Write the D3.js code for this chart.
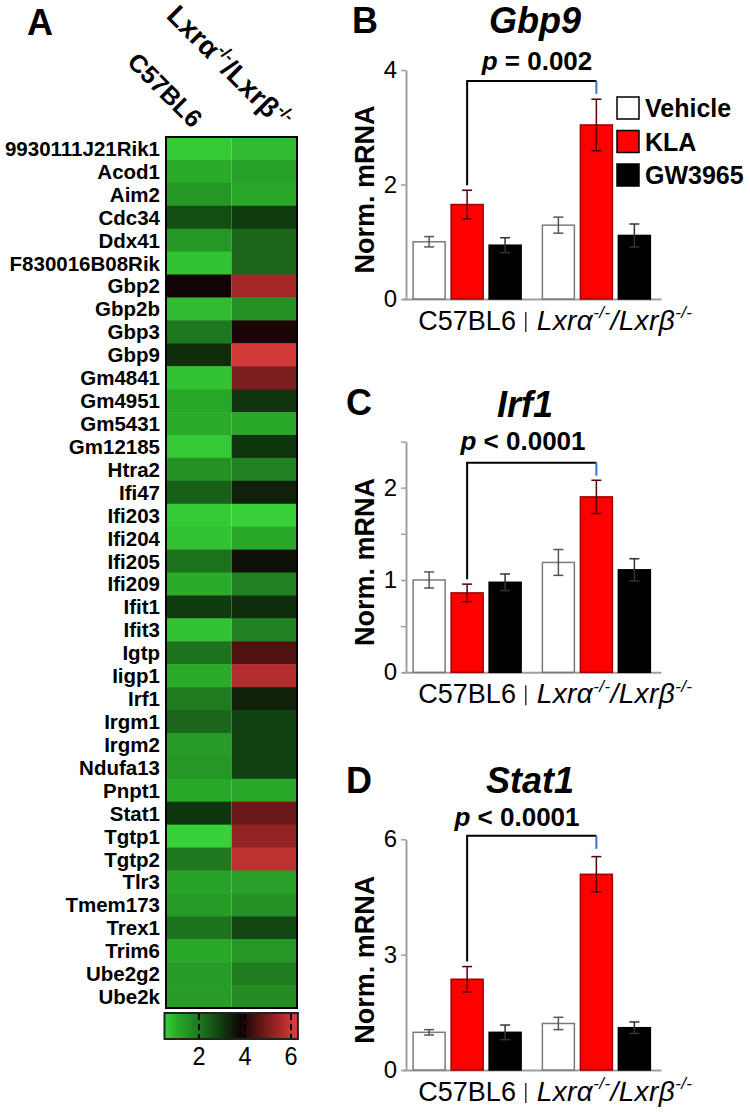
<!DOCTYPE html>
<html>
<head>
<meta charset="utf-8">
<script src="https://cdnjs.cloudflare.com/ajax/libs/d3/7.8.5/d3.min.js"></script>
<style>
  body { margin: 0; background: #fff; }
  svg { display: block; font-family: "Liberation Sans", Arial, sans-serif; }
</style>
</head>
<body>
<div id="chart"></div>
<script>
// ---- heatmap data (panel A) ----
const genes = ["9930111J21Rik1", "Acod1", "Aim2", "Cdc34", "Ddx41", "F830016B08Rik",
  "Gbp2", "Gbp2b", "Gbp3", "Gbp9", "Gm4841", "Gm4951", "Gm5431", "Gm12185", "Htra2",
  "Ifi47", "Ifi203", "Ifi204", "Ifi205", "Ifi209", "Ifit1", "Ifit3", "Igtp", "Iigp1",
  "Irf1", "Irgm1", "Irgm2", "Ndufa13", "Pnpt1", "Stat1", "Tgtp1", "Tgtp2", "Tlr3",
  "Tmem173", "Trex1", "Trim6", "Ube2g2", "Ube2k"];
const strains = ["C57BL6", "Lxr"];
const heatC57 = [0.6, 1.0, 1.4, 2.7, 1.4, 0.7, 3.8, 0.8, 2.0, 3.2, 0.7, 1.1, 1.0, 0.6, 1.5,
  2.4, 0.6, 0.7, 2.1, 1.0, 3.0, 0.7, 2.1, 1.0, 1.9, 2.3, 1.3, 1.4, 1.1, 3.1, 0.5, 2.0, 1.2,
  1.3, 2.1, 1.1, 1.3, 1.3];
const heatLxr = [0.8, 1.2, 1.1, 3.0, 2.3, 2.3, 5.5, 1.5, 3.9, 6.1, 5.0, 3.1, 1.1, 3.1, 1.8,
  3.4, 0.5, 1.1, 3.6, 1.8, 3.2, 1.8, 4.5, 5.7, 3.4, 2.9, 2.9, 2.9, 1.1, 4.8, 5.3, 5.8, 1.2,
  1.5, 2.8, 1.4, 1.9, 1.6];
const colorTicks = [2, 4, 6];

// ---- bar data (panels B-D) ----
const groups = ["C57BL6", "Lxr"];
const treatments = ["Vehicle", "KLA", "GW3965"];
const gbp9C57 = [1.0, 1.65, 0.94];
const gbp9Lxr = [1.29, 3.04, 1.11];
const gbp9ErrC57 = [0.09, 0.25, 0.13];
const gbp9ErrLxr = [0.14, 0.45, 0.2];
const irf1C57 = [1.0, 0.86, 0.975];
const irf1Lxr = [1.19, 1.9, 1.11];
const irf1ErrC57 = [0.087, 0.095, 0.09];
const irf1ErrLxr = [0.14, 0.18, 0.12];
const stat1C57 = [0.98, 2.36, 0.98];
const stat1Lxr = [1.21, 5.09, 1.1];
const stat1ErrC57 = [0.07, 0.33, 0.19];
const stat1ErrLxr = [0.16, 0.46, 0.15];

const W = 750, H = 1112;
const svg = d3.select("#chart").append("svg").attr("width", W).attr("height", H);

// superscripted "Lxrα-/-/Lxrβ-/-" label
function lxrLabel(text, size, italic) {
  const sup = Math.round(size * 0.62);
  const parts = [
    { t: "Lxr\u03b1", s: size, dy: 0 },
    { t: "-/-", s: sup, dy: -size * 0.42 },
    { t: "/Lxr\u03b2", s: size, dy: size * 0.42 },
    { t: "-/-", s: sup, dy: -size * 0.42 },
  ];
  parts.forEach((p) => {
    text.append("tspan").attr("font-size", p.s).attr("dy", p.dy)
      .attr("font-style", italic ? "italic" : "normal").text(p.t);
  });
}

// ---------------- Panel A ----------------
svg.append("text").attr("x", 27).attr("y", 35).attr("font-size", 36)
  .attr("font-weight", "bold").text("A");

const hx = d3.scaleBand().domain(strains).range([166, 297]);
const hy = d3.scaleBand().domain(genes).range([137, 1008]);
const heatDomain = [0.5, 1.0, 2.0, 3.0, 3.8, 4.6, 5.5, 6.2];
const heatColor = d3.scaleLinear().domain(heatDomain)
  .range(["#38d238", "#2aac2a", "#1e781e", "#0f3c0f", "#110404", "#5a1414", "#a52828", "#dc3c3c"])
  .clamp(true);

const cells = [];
genes.forEach((g, i) => {
  cells.push({ gene: g, strain: strains[0], v: heatC57[i] });
  cells.push({ gene: g, strain: strains[1], v: heatLxr[i] });
});

svg.append("g").selectAll("rect").data(cells).join("rect")
  .attr("x", (d) => hx(d.strain))
  .attr("y", (d) => hy(d.gene))
  .attr("width", hx.bandwidth())
  .attr("height", hy.bandwidth() + 0.5)
  .attr("fill", (d) => heatColor(d.v));

svg.append("rect").attr("x", 166).attr("y", 137).attr("width", 131).attr("height", 871)
  .attr("fill", "none").attr("stroke", "#000").attr("stroke-width", 2);

svg.append("g").selectAll("text").data(genes).join("text")
  .attr("x", 160)
  .attr("y", (d) => hy(d) + hy.bandwidth() / 2 + 7.5)
  .attr("text-anchor", "end")
  .attr("font-size", 20.5)
  .attr("font-weight", "bold")
  .text((d) => d);

// column headers
svg.append("text").attr("transform", "translate(" + (hx.bandwidth() / 2 + 166 - 7) + ",129) rotate(45)")
  .attr("text-anchor", "end").attr("font-size", 25).attr("font-weight", "bold").text("C57BL6");
const hdr = svg.append("text")
  .attr("transform", "translate(" + (hx(strains[1]) + hx.bandwidth() / 2 + 15) + ",131) rotate(45)")
  .attr("text-anchor", "end").attr("font-size", 28).attr("font-weight", "bold");
lxrLabel(hdr, 28, false);

// colour bar
const cx = d3.scaleLinear().domain([2, 6]).range([199, 291]);
const cb0 = cx(0.5), cb1 = cx(6.3);
const grad = svg.append("defs").append("linearGradient").attr("id", "heatGrad");
heatDomain.forEach((d) => {
  grad.append("stop").attr("offset", (cx(d) - cb0) / (cb1 - cb0)).attr("stop-color", heatColor(d));
});
svg.append("rect").attr("x", cb0).attr("y", 1013).attr("width", cb1 - cb0).attr("height", 26)
  .attr("fill", "url(#heatGrad)").attr("stroke", "#222").attr("stroke-width", 2);
svg.append("g").selectAll("line").data(colorTicks).join("line")
  .attr("x1", (d) => cx(d)).attr("x2", (d) => cx(d))
  .attr("y1", 1014).attr("y2", 1038)
  .attr("stroke", "#000").attr("stroke-width", 2).attr("stroke-dasharray", "6,4");
svg.append("g").selectAll("text").data(colorTicks).join("text")
  .attr("transform", (d) => "translate(" + cx(d) + ",1065) scale(0.9,1)")
  .attr("text-anchor", "middle").attr("font-size", 26).text((d) => d);

// ---------------- Panels B-D ----------------
const x0 = d3.scaleBand().domain(groups).range([402.5, 661]);
const x1 = d3.scaleBand().domain(treatments).range([0, x0.bandwidth()])
  .paddingInner(0.158).paddingOuter(0.28);
const fills = { Vehicle: "#ffffff", KLA: "#ff0000", GW3965: "#000000" };
const strokes = { Vehicle: "#7a7a7a", KLA: "#a00000", GW3965: "#000000" };
const errColor = { Vehicle: "#555555", KLA: "#500000", GW3965: "#333333" };

const panels = [
  { letter: "B", lx: 352, ly: 33, title: "Gbp9", tx: 535, ty: 33, pText: " = 0.002", px: 537, py: 70,
    top: 70, zero: 299, max: 4, ticks: [0, 2, 4], labels: [0, 2, 4],
    c57: gbp9C57, lxr: gbp9Lxr, eC57: gbp9ErrC57, eLxr: gbp9ErrLxr, bracket: 3.81, legend: true },
  { letter: "C", lx: 346, ly: 415, title: "Irf1", tx: 525, ty: 417, pText: " < 0.0001", px: 523, py: 450,
    top: 441.5, zero: 672.3, max: 2.5, ticks: [0, 0.5, 1, 1.5, 2, 2.5], labels: [0, 1, 2],
    c57: irf1C57, lxr: irf1Lxr, eC57: irf1ErrC57, eLxr: irf1ErrLxr, bracket: 2.27 },
  { letter: "D", lx: 346, ly: 793, title: "Stat1", tx: 530, ty: 793, pText: " < 0.0001", px: 517, py: 826,
    top: 839.3, zero: 1070, max: 6, ticks: [0, 3, 6], labels: [0, 3, 6],
    c57: stat1C57, lxr: stat1Lxr, eC57: stat1ErrC57, eLxr: stat1ErrLxr, bracket: 6.09 },
];

panels.forEach((p) => {
  const g = svg.append("g");
  const y = d3.scaleLinear().domain([0, p.max]).range([p.zero, p.top]);

  g.append("text").attr("x", p.lx).attr("y", p.ly).attr("font-size", 36)
    .attr("font-weight", "bold").text(p.letter);
  g.append("text").attr("x", p.tx).attr("y", p.ty).attr("text-anchor", "middle")
    .attr("font-size", 36).attr("font-weight", "bold").attr("font-style", "italic").text(p.title);
  const pt = g.append("text").attr("x", p.px).attr("y", p.py).attr("text-anchor", "middle")
    .attr("font-size", 26).attr("font-weight", "bold");
  pt.append("tspan").attr("font-style", "italic").text("p");
  pt.append("tspan").text(p.pText);

  // axes
  const yAxis = g.append("g").attr("transform", "translate(406,0)")
    .call(d3.axisLeft(y).tickValues(p.ticks).tickSize(5).tickSizeOuter(0).tickPadding(4)
      .tickFormat((d) => (p.labels.includes(d) ? d : "")));
  yAxis.select(".domain").attr("stroke", "#a0a0a0").attr("stroke-width", 2);
  yAxis.selectAll(".tick line").attr("stroke", "#a0a0a0").attr("stroke-width", 1.5);
  yAxis.selectAll(".tick text").attr("font-size", 24).attr("fill", "#000")
    .attr("font-family", "Liberation Sans, Arial, sans-serif");

  const xAxis = g.append("g").attr("transform", "translate(0," + p.zero + ")")
    .call(d3.axisBottom(x0).tickSize(0).tickSizeOuter(0).tickFormat(""));
  xAxis.select(".domain").attr("stroke", "#a0a0a0").attr("stroke-width", 2);

  g.append("text").attr("transform", "translate(374," + ((p.zero + p.top) / 2 + 5) + ") rotate(-90)")
    .attr("text-anchor", "middle").attr("font-size", 27).attr("font-weight", "bold").text("Norm. mRNA");

  // bars
  const rows = [];
  treatments.forEach((t, i) => {
    rows.push({ grp: groups[0], t: t, v: p.c57[i], e: p.eC57[i] });
    rows.push({ grp: groups[1], t: t, v: p.lxr[i], e: p.eLxr[i] });
  });
  const bx = (d) => x0(d.grp) + x1(d.t);
  g.append("g").selectAll("rect").data(rows).join("rect")
    .attr("x", bx).attr("y", (d) => y(d.v))
    .attr("width", x1.bandwidth()).attr("height", (d) => p.zero - y(d.v))
    .attr("fill", (d) => fills[d.t]).attr("stroke", (d) => strokes[d.t]).attr("stroke-width", 1.5);

  const eb = g.append("g").selectAll("g").data(rows).join("g")
    .attr("stroke", (d) => errColor[d.t]).attr("stroke-width", 1.5);
  eb.append("line").attr("x1", (d) => bx(d) + x1.bandwidth() / 2).attr("x2", (d) => bx(d) + x1.bandwidth() / 2)
    .attr("y1", (d) => y(d.v - d.e)).attr("y2", (d) => y(d.v + d.e));
  [1, -1].forEach((s) => {
    eb.append("line").attr("x1", (d) => bx(d) + x1.bandwidth() / 2 - 5).attr("x2", (d) => bx(d) + x1.bandwidth() / 2 + 5)
      .attr("y1", (d) => y(d.v + s * d.e)).attr("y2", (d) => y(d.v + s * d.e));
  });

  // significance bracket
  const bl = x0(groups[0]) + x1("KLA") + x1.bandwidth() / 2;
  const br = x0(groups[1]) + x1("KLA") + x1.bandwidth() / 2;
  const by = y(p.bracket);
  const leftEnd = y(p.c57[1] + p.eC57[1]) - 5;
  g.append("path").attr("d", "M" + bl + "," + leftEnd + "V" + by + "H" + br)
    .attr("fill", "none").attr("stroke", "#000").attr("stroke-width", 2);
  g.append("line").attr("x1", br).attr("x2", br).attr("y1", by).attr("y2", by + 13)
    .attr("stroke", "#3a6fd0").attr("stroke-width", 2);

  // group labels
  g.append("text").attr("x", x0(groups[0]) + x0.bandwidth() / 2).attr("y", p.zero + 31)
    .attr("text-anchor", "middle").attr("font-size", 27).text("C57BL6");
  g.append("line").attr("x1", x0(groups[1]) - 6).attr("x2", x0(groups[1]) - 6)
    .attr("y1", p.zero + 13).attr("y2", p.zero + 33).attr("stroke", "#333").attr("stroke-width", 1.5);
  const lx = g.append("text").attr("x", x0(groups[1]) + 5).attr("y", p.zero + 31).attr("font-size", 28)
    .attr("letter-spacing", 0.4);
  lxrLabel(lx, 28, true);

  if (p.legend) {
    const leg = g.append("g").selectAll("g").data(treatments).join("g")
      .attr("transform", (d, i) => "translate(617," + (97 + i * 33.5) + ")");
    leg.append("rect").attr("width", 22).attr("height", 22)
      .attr("fill", (d) => fills[d]).attr("stroke", "#000").attr("stroke-width", 1.5);
    leg.append("text").attr("x", 28).attr("y", 20).attr("font-size", 25).attr("font-weight", "bold")
      .text((d) => d);
  }
});
</script>
</body>
</html>
